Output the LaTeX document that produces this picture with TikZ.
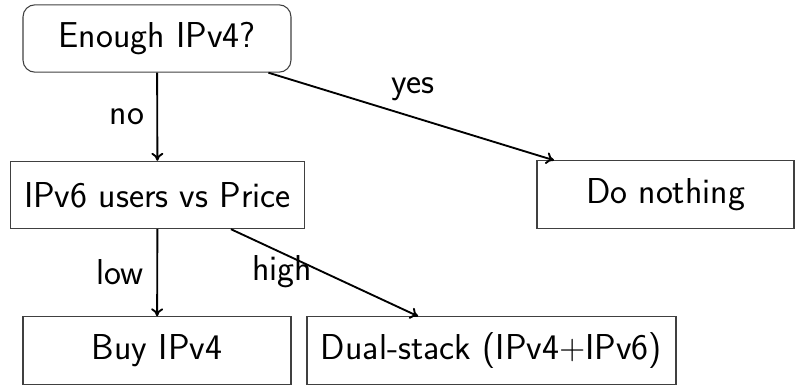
\documentclass[tikz,border=0pt]{standalone}
\usetikzlibrary{arrows.meta}
\begin{document}
\begin{tikzpicture}[x=0.75pt,y=-0.75pt,
  font=\sffamily\fontsize{27}{32}\selectfont,
  box/.style={draw=black!75,line width=0.8pt,minimum height=50.5pt,inner sep=0pt},
  decision/.style={box,rounded corners=9pt},
  edge/.style={line width=1.4pt,-{To[length=6pt,width=9pt]}},
  lbl/.style={inner sep=0pt}]
\useasboundingbox (0,0) rectangle (795,385);
% nodes
\node[decision,minimum width=201pt] (q1) at (157,38.5) {Enough IPv4?};
\node[box,minimum width=221pt] (q2) at (157.5,195) {IPv6 users vs Price};
\node[box,minimum width=192.75pt] (nothing) at (665.5,194.5) {Do nothing};
\node[box,minimum width=201pt] (buy) at (157,350.5) {Buy IPv4};
\node[box,minimum width=276.75pt] (dual) at (491.5,350.5) {Dual-stack (IPv4+IPv6)};
% connectors
\draw[edge] (q1) -- (q2);
\draw[edge] (q1) -- (nothing);
\draw[edge] (q2) -- (buy);
\draw[edge] (q2) -- (dual);
% edge labels
\node[lbl] (lno) at (127,117) {no};
\node[lbl] (lyes) at (413,89) {yes};
\node[lbl] (llow) at (120,272) {low};
\node[lbl] (lhigh) at (282,272) {high};
\end{tikzpicture}
\end{document}
